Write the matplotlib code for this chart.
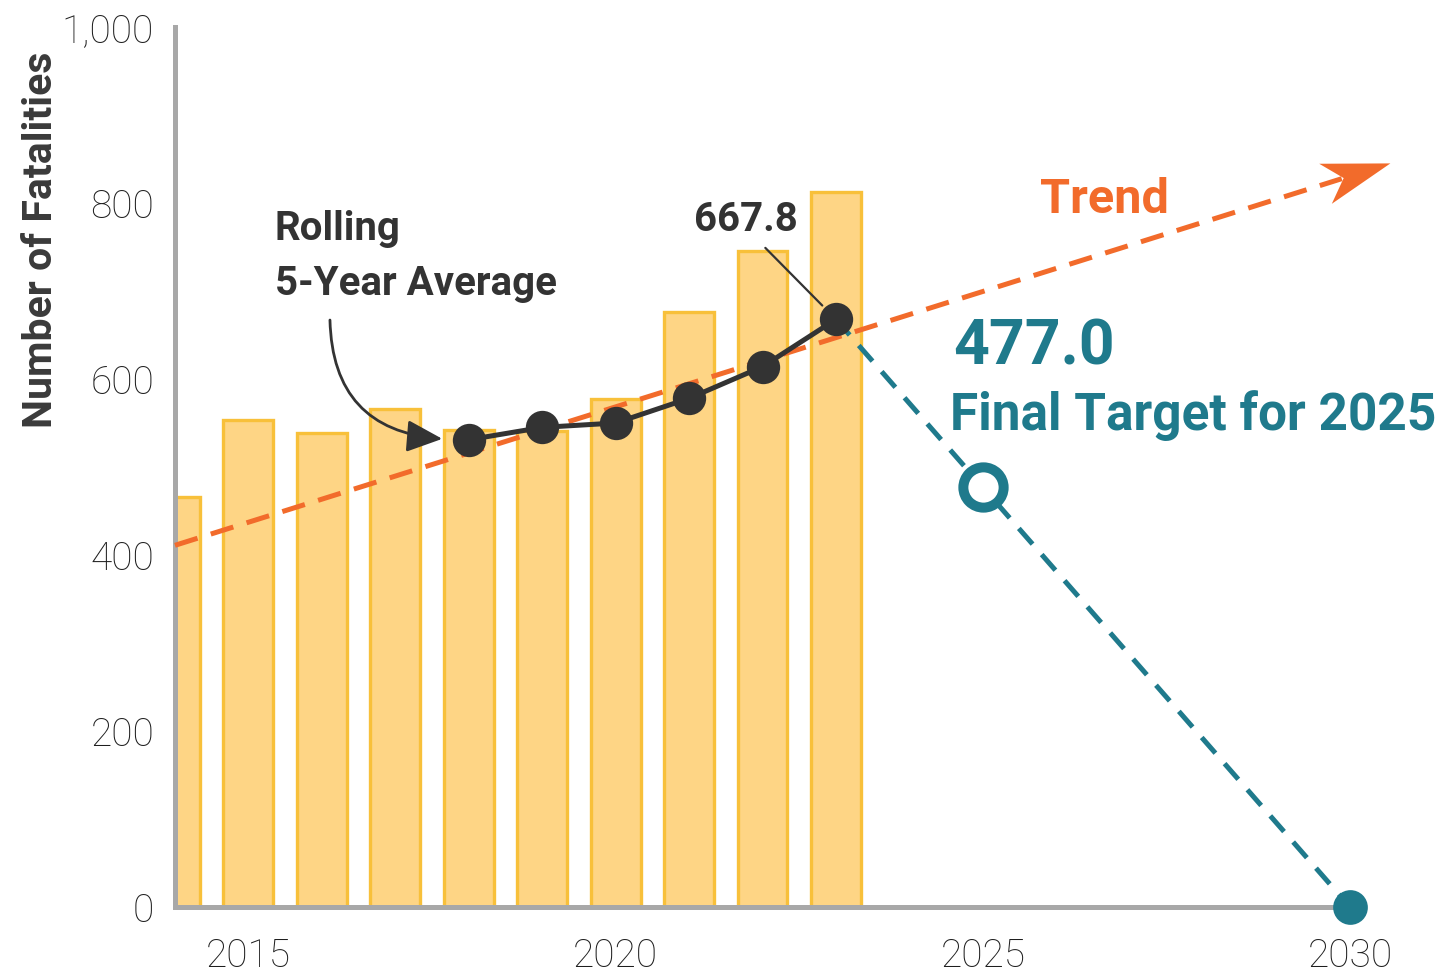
import matplotlib
matplotlib.use("Agg")
import matplotlib.pyplot as plt
import numpy as np
from matplotlib.patches import Polygon

# ---------------- data ----------------
years = [2014, 2015, 2016, 2017, 2018, 2019, 2020, 2021, 2022, 2023]
fatalities = [466, 553, 539, 566, 542, 541, 577, 676, 745, 812]

avg_years = [2018, 2019, 2020, 2021, 2022, 2023]
rolling_avg = [531, 545, 550, 578, 614, 667.8]

trend_years = [2014, 2030.55]
trend_values = [411, 845]

target_years = [2023, 2025, 2030]
target_values = [667.8, 477.0, 0]

yticks = [0, 200, 400, 600, 800, 1000]
ytick_labels = ["0", "200", "400", "600", "800", "1,000"]
xticks = [2015, 2020, 2025, 2030]
xtick_labels = ["2015", "2020", "2025", "2030"]

# ---------------- style ----------------
plt.rcParams["lines.scale_dashes"] = False
BOLD = ["Roboto", "DejaVu Sans"]
TICKF = ["Roboto", "DejaVu Sans"]
BAR_FILL = "#FED585"
BAR_EDGE = "#F8C03A"
ORANGE = "#F26B2B"
TEAL = "#1F7A8C"
DARK = "#333333"
GRAY = "#A8A8A8"
TXT = "#3A3A3A"
TICKC = "#1E1E1E"

W, H = 1443, 977
fig = plt.figure(figsize=(W / 100, H / 100), dpi=100)
ax = fig.add_axes([175 / W, 70 / H, 1175 / W, 880 / H])
ax.set_xlim(2014, 2030)
ax.set_ylim(0, 1000)

# bars
ax.bar(years, fatalities, width=0.68, color=BAR_FILL, edgecolor=BAR_EDGE,
       linewidth=2.4, zorder=1)

# trend line with arrow head
p0 = ax.transData.transform((trend_years[0], trend_values[0]))
p1 = ax.transData.transform((trend_years[1], trend_values[1]))
u = (p1 - p0) / np.linalg.norm(p1 - p0)
n = np.array([-u[1], u[0]])
L, Wh = 68, 21
head_disp = [p1, p1 - L * u + Wh * n, p1 - 0.72 * L * u, p1 - L * u - Wh * n]
inv = ax.transData.inverted()
head_data = inv.transform(np.array(head_disp))
line_end = inv.transform(p1 - 0.75 * L * u)
ax.plot([trend_years[0], line_end[0]], [trend_values[0], line_end[1]],
        color=ORANGE, lw=3.6, dashes=(17, 10), zorder=3, clip_on=False,
        dash_capstyle="butt")
ax.add_patch(Polygon(head_data, closed=True, facecolor=ORANGE, edgecolor="none",
                     zorder=3, clip_on=False))

# target line
ax.plot(target_years, target_values, color=TEAL, lw=3.6, dashes=(15, 10),
        zorder=4, clip_on=False, dash_capstyle="butt")
ax.plot(target_years[1], target_values[1], "o", ms=29, mew=7.2, mfc="white",
        mec=TEAL, zorder=5, clip_on=False)
ax.plot(target_years[2], target_values[2], "o", ms=25, mew=0, mfc=TEAL,
        zorder=6, clip_on=False)

# rolling average
ax.plot(avg_years, rolling_avg, color=DARK, lw=3.6, zorder=6)
ax.plot(avg_years, rolling_avg, "o", ms=24, mew=0, mfc=DARK, zorder=7)

# annotations
ax.text(2025.78, 789, "Trend", color=ORANGE, fontsize=35, fontweight="bold",
        family=BOLD, ha="left", va="baseline")
ax.text(2024.6, 616, "477.0", color=TEAL, fontsize=45, fontweight="bold",
        family=BOLD, ha="left", va="baseline")
ax.text(2024.55, 542, "Final Target for 2025", color=TEAL, fontsize=37,
        fontweight="bold", family=BOLD, ha="left", va="baseline")
ax.annotate("667.8", xy=(avg_years[-1], rolling_avg[-1]), xytext=(2021.78, 768),
            color=DARK, fontsize=29, fontweight="bold", family=BOLD,
            ha="center", va="baseline",
            arrowprops=dict(arrowstyle="-", color=DARK, lw=1.6,
                            relpos=(0.6, 0.0), shrinkA=6, shrinkB=14))
ax.text(2015.36, 758, "Rolling", color=DARK, fontsize=29, fontweight="bold",
        family=BOLD, ha="left", va="baseline")
ax.text(2015.36, 695, "5-Year Average", color=DARK, fontsize=29,
        fontweight="bold", family=BOLD, ha="left", va="baseline")
ax.annotate("", xy=(2017.64, 532), xytext=(2016.11, 667),
            arrowprops=dict(arrowstyle="-|>,head_length=1.0,head_width=0.45",
                            connectionstyle="arc3,rad=0.45", color=DARK,
                            lw=2.0, shrinkA=0, shrinkB=0, mutation_scale=22))

# axes styling
for s in ["top", "right"]:
    ax.spines[s].set_visible(False)
for s in ["left", "bottom"]:
    ax.spines[s].set_color(GRAY)
    ax.spines[s].set_linewidth(3.6)
    ax.spines[s].set_zorder(2)
ax.set_yticks(yticks)
ax.set_yticklabels(ytick_labels)
ax.set_xticks(xticks)
ax.set_xticklabels(xtick_labels)
ax.tick_params(axis="y", length=0, pad=15, labelsize=28, labelcolor=TICKC)
ax.tick_params(axis="x", length=0, pad=22, labelsize=28, labelcolor=TICKC)
for lab in ax.get_xticklabels() + ax.get_yticklabels():
    lab.set_family(TICKF)
    lab.set_fontweight("light")
ax.set_facecolor("none")

fig.text(52 / W, 1 - 240 / H, "Number of Fatalities", rotation=90,
         rotation_mode="anchor", color=TXT, fontsize=29.5, fontweight="bold",
         family=BOLD, ha="center", va="baseline")

fig.savefig("out.png", dpi=100, facecolor="white")
